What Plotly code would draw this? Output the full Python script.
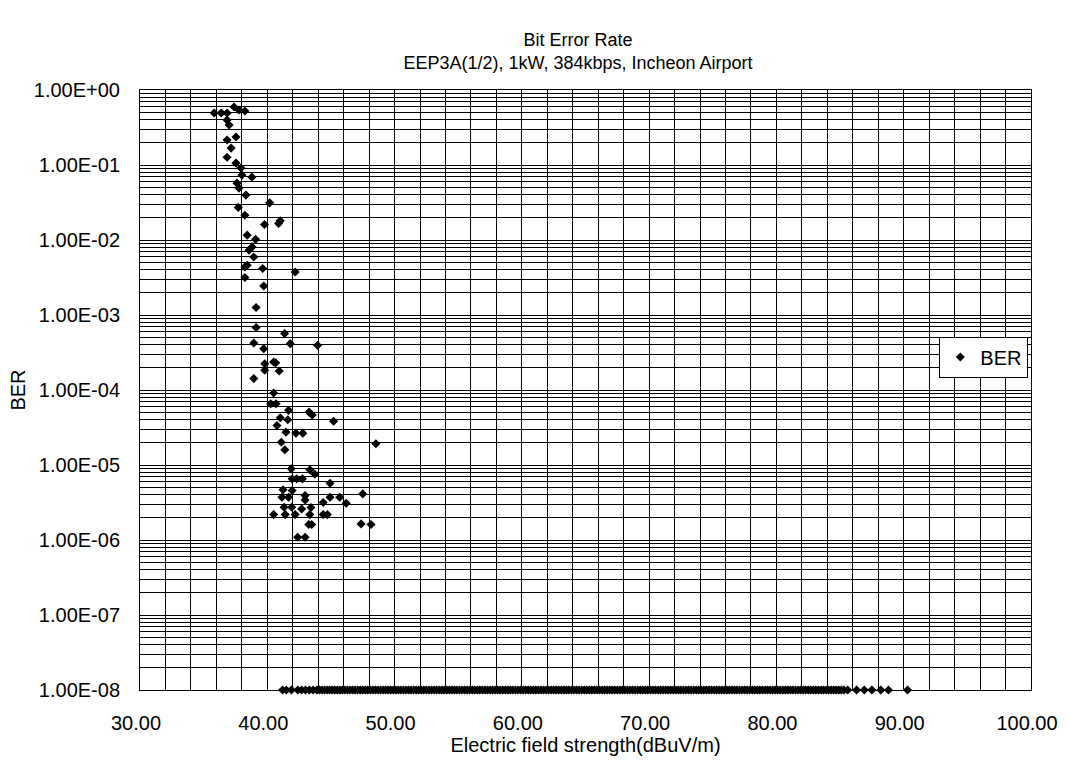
import plotly.graph_objects as go

# ---- data ----
field_strength = [
    35.83, 36.38, 36.84, 37.39, 37.78, 38.24, 36.84, 37.00, 36.84, 37.54,
    37.16, 36.84, 37.54, 37.93, 38.01, 38.79, 37.62, 37.78, 38.32, 37.72,
    40.19, 38.24, 39.78, 41.02, 40.89, 38.42, 39.08, 38.56, 38.81, 38.94,
    38.42, 38.24, 39.64, 42.19, 38.24, 39.72, 39.12, 39.12, 41.36, 41.80,
    38.94, 39.72, 43.95, 39.80, 40.50, 39.80, 40.94, 38.94, 40.66, 40.50,
    40.27, 40.69, 41.67, 43.28, 43.53, 41.02, 41.61, 45.21, 40.76, 41.47,
    42.25, 42.79, 41.10, 41.38, 48.53, 41.88, 43.35, 43.74, 41.95, 42.31,
    42.76, 44.93, 41.24, 41.95, 41.15, 41.67, 42.97, 44.93, 45.69, 47.50,
    44.39, 46.20, 41.32, 41.92, 42.70, 43.43, 40.50, 41.41, 42.19, 43.34,
    44.39, 44.72, 43.26, 47.37, 48.15, 42.39, 42.97, 43.49, 42.97,
]
ber = [
    0.493, 0.493, 0.493, 0.593, 0.541, 0.525, 0.397, 0.341, 0.215, 0.236,
    0.168, 0.127, 0.106, 0.091, 0.0733, 0.0689, 0.0573, 0.0492, 0.0397, 0.0272,
    0.0313, 0.0214, 0.0161, 0.0180, 0.0166, 0.0116, 0.0102, 0.00731, 0.00809, 0.00594,
    0.00461, 0.00438, 0.00417, 0.00375, 0.00316, 0.00244, 0.00126, 0.000679, 0.000565, 0.000415,
    0.000423, 0.000356, 0.000394, 0.000224, 0.000236, 0.000183, 0.000179, 0.000142, 0.000230, 9.10e-5,
    6.56e-5, 6.56e-5, 5.35e-5, 5.07e-5, 4.65e-5, 4.27e-5, 4.01e-5, 3.84e-5, 3.37e-5, 2.74e-5,
    2.66e-5, 2.66e-5, 2.01e-5, 1.60e-5, 1.92e-5, 8.89e-6, 8.62e-6, 7.54e-6, 6.54e-6, 6.54e-6,
    6.54e-6, 5.71e-6, 4.67e-6, 4.57e-6, 3.72e-6, 3.72e-6, 3.92e-6, 3.72e-6, 3.72e-6, 4.12e-6,
    3.16e-6, 3.09e-6, 2.73e-6, 2.73e-6, 2.60e-6, 2.71e-6, 2.18e-6, 2.18e-6, 2.18e-6, 2.18e-6,
    2.18e-6, 2.18e-6, 1.61e-6, 1.64e-6, 1.61e-6, 1.09e-6, 1.09e-6, 1.61e-6, 3.41e-6,
]

# error-free measurements, plotted at the 1.00E-08 floor
floor_strength = [
    41.2, 41.5, 41.9, 42.4, 42.7, 43.0, 43.3, 43.6, 43.9,
    44.1, 44.3, 44.5, 44.7, 44.9, 45.1, 45.3, 45.5, 45.7, 45.9, 46.1, 46.3,
    46.5, 46.7, 46.9, 47.1, 47.3, 47.5, 47.7, 47.9, 48.1, 48.3, 48.5, 48.7,
    48.9, 49.1, 49.3, 49.5, 49.7, 49.9, 50.1, 50.3, 50.5, 50.7, 50.9, 51.1,
    51.3, 51.5, 51.7, 51.9, 52.1, 52.3, 52.5, 52.7, 52.9, 53.1, 53.3, 53.5,
    53.7, 53.9, 54.1, 54.3, 54.5, 54.7, 54.9, 55.1, 55.3, 55.5, 55.7, 55.9,
    56.1, 56.3, 56.5, 56.7, 56.9, 57.1, 57.3, 57.5, 57.7, 57.9, 58.1, 58.3,
    58.5, 58.7, 58.9, 59.1, 59.3, 59.5, 59.7, 59.9, 60.1, 60.3, 60.5, 60.7,
    60.9, 61.1, 61.3, 61.5, 61.7, 61.9, 62.1, 62.3, 62.5, 62.7, 62.9, 63.1,
    63.3, 63.5, 63.7, 63.9, 64.1, 64.3, 64.5, 64.7, 64.9, 65.1, 65.3, 65.5,
    65.7, 65.9, 66.1, 66.3, 66.5, 66.7, 66.9, 67.1, 67.3, 67.5, 67.7, 67.9,
    68.1, 68.3, 68.5, 68.7, 68.9, 69.1, 69.3, 69.5, 69.7, 69.9, 70.1, 70.3,
    70.5, 70.7, 70.9, 71.1, 71.3, 71.5, 71.7, 71.9, 72.1, 72.3, 72.5, 72.7,
    72.9, 73.1, 73.3, 73.5, 73.7, 73.9, 74.1, 74.3, 74.5, 74.7, 74.9, 75.1,
    75.3, 75.5, 75.7, 75.9, 76.1, 76.3, 76.5, 76.7, 76.9, 77.1, 77.3, 77.5,
    77.7, 77.9, 78.1, 78.3, 78.5, 78.7, 78.9, 79.1, 79.3, 79.5, 79.7, 79.9,
    80.1, 80.3, 80.5, 80.7, 80.9, 81.1, 81.3, 81.5, 81.7, 81.9, 82.1, 82.3,
    82.5, 82.7, 82.9, 83.1, 83.3, 83.5, 83.7, 83.9, 84.1, 84.3, 84.5, 84.7,
    84.9, 85.1, 85.3, 85.6,
    86.3, 86.9, 87.5, 88.2, 88.8, 90.3,
]
floor_ber = [1e-8] * len(floor_strength)

decades = [-8, -7, -6, -5, -4, -3, -2, -1, 0]
y_ticktext = ["1.00E-08", "1.00E-07", "1.00E-06", "1.00E-05", "1.00E-04",
              "1.00E-03", "1.00E-02", "1.00E-01", "1.00E+00"]

x_all = field_strength + floor_strength
y_all = ber + floor_ber

FONT = "Liberation Sans, Arial, sans-serif"

fig = go.Figure()
fig.add_trace(go.Scatter(
    x=x_all, y=y_all, mode="markers", name="BER",
    marker=dict(symbol="diamond", size=7, color="black"),
    cliponaxis=False,
))

y_tickvals = [10.0 ** d for d in decades]
y_minor = [m * 10.0 ** d for d in decades[:-1] for m in range(2, 10)]

fig.update_layout(
    width=1070, height=763,
    paper_bgcolor="white", plot_bgcolor="white",
    margin=dict(l=140, r=30, t=90, b=73),
    font=dict(family=FONT, size=20, color="black"),
    title=dict(
        text="Bit Error Rate<br>EEP3A(1/2), 1kW, 384kbps, Incheon Airport",
        x=578 / 1070, xanchor="center",
        y=1 - 46 / 763, yanchor="top", yref="container",
        font=dict(family=FONT, size=18, color="black"),
    ),
    showlegend=True,
    legend=dict(
        x=0.997, xanchor="right", y=0.555, yanchor="middle",
        bgcolor="white", bordercolor="black", borderwidth=1,
        font=dict(family=FONT, size=20, color="black"),
        itemsizing="trace", tracegroupgap=0,
    ),
)

fig.update_xaxes(
    range=[30, 100], dtick=10, tick0=30, tickformat=".2f",
    showgrid=True, gridcolor="black", gridwidth=1,
    minor=dict(dtick=2, showgrid=True, gridcolor="black", gridwidth=1),
    showline=True, linecolor="black", linewidth=1, mirror=True,
    ticks="", ticklabelstandoff=15, ticklabelshift=-4,
    ticklabeloverflow="allow", zeroline=False,
    title=dict(text="Electric field strength(dBuV/m)", standoff=0,
               font=dict(family=FONT, size=20)),
    tickfont=dict(family=FONT, size=20),
)
fig.update_yaxes(
    type="log", range=[-8, 0],
    tickmode="array", tickvals=y_tickvals, ticktext=y_ticktext,
    showgrid=True, gridcolor="black", gridwidth=1,
    minor=dict(tickmode="array", tickvals=y_minor, showgrid=True,
               gridcolor="black", gridwidth=1),
    showline=True, linecolor="black", linewidth=1, mirror=True,
    ticks="", ticklabelstandoff=15, zeroline=False,
    title=dict(text="BER", standoff=2, font=dict(family=FONT, size=20)),
    tickfont=dict(family=FONT, size=20),
)

fig.write_html(
    "out.html",
    config={"displayModeBar": False},
    post_script="document.body.style.margin='0px';document.body.style.overflow='hidden';",
)
